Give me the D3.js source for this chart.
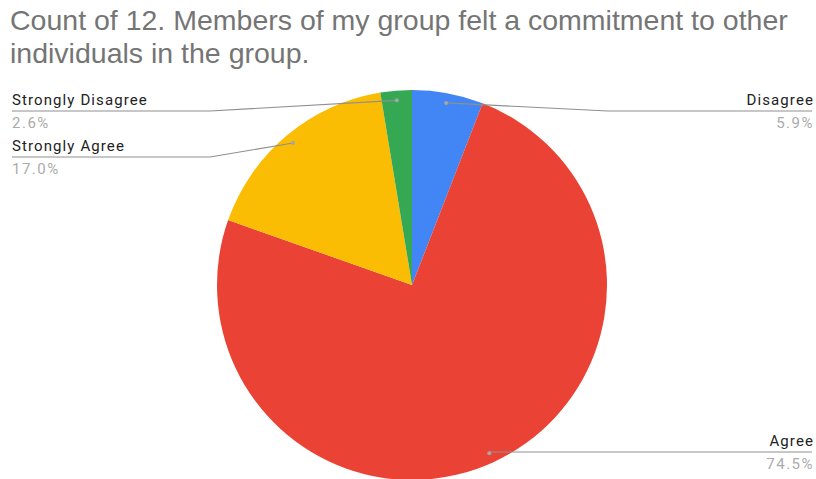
<!DOCTYPE html>
<html>
<head>
<meta charset="utf-8">
<script src="https://cdn.jsdelivr.net/npm/d3@7"></script>
<style>
  html, body { margin: 0; padding: 0; background: #fff; }
  svg { display: block; }
</style>
</head>
<body>
<svg id="chart" width="816" height="479"></svg>
<script>
// Survey responses, in slice order clockwise from 12 o'clock
const categories = ["Disagree", "Agree", "Strongly Agree", "Strongly Disagree"];
const shares = [5.9, 74.5, 17.0, 2.6];
const colors = ["#4285F4", "#EA4335", "#FBBC04", "#34A853"];
const titleLines = ["Count of 12. Members of my group felt a commitment to other",
                    "individuals in the group."];

const W = 816, H = 479;
const cx = 412, cy = 285, r = 195;

const svg = d3.select("#chart");

// Title
svg.append("text")
  .attr("x", 10).attr("y", 30)
  .attr("font-family", "'Liberation Sans', Arial, sans-serif")
  .attr("font-size", 28.5)
  .attr("fill", "#757575")
  .selectAll("tspan").data(titleLines).join("tspan")
  .attr("x", 10)
  .attr("dy", (d, i) => i === 0 ? 0 : 33)
  .text(d => d);

const data = categories.map((c, i) => ({ name: c, value: shares[i], color: colors[i] }));

const pie = d3.pie().value(d => d.value).sort(null);
const arcs = pie(data);
const arc = d3.arc().innerRadius(0).outerRadius(r);

const g = svg.append("g").attr("transform", `translate(${cx},${cy})`);
g.selectAll("path").data(arcs).join("path")
  .attr("d", arc)
  .attr("fill", d => d.data.color);

// Leader lines: anchor dot inside the slice, elbow, horizontal run to the label
const labelSide = { "Disagree": "right", "Agree": "right", "Strongly Agree": "left", "Strongly Disagree": "left" };
const labelY = { "Disagree": 111, "Agree": 452, "Strongly Agree": 157, "Strongly Disagree": 111 };
const dotArc = d3.arc().innerRadius(r * 0.95).outerRadius(r * 0.95);

const leaders = svg.append("g");
arcs.forEach(a => {
  const [dx, dy] = dotArc.centroid(a);
  const px = cx + dx, py = cy + dy;
  const side = labelSide[a.data.name];
  const ly = labelY[a.data.name];
  const endX = side === "right" ? 812 : 12;
  let elbowX = side === "right" ? Math.max(px, 608) : Math.min(px, 210);
  if (a.data.name === "Agree") elbowX = px;
  leaders.append("path")
    .attr("d", `M${px},${py}L${elbowX},${ly}L${endX},${ly}`)
    .attr("fill", "none")
    .attr("stroke", "#8f8f8f")
    .attr("stroke-width", 1.2);
  leaders.append("circle")
    .attr("cx", px).attr("cy", py).attr("r", 2)
    .attr("fill", "#a6a6a6");

  const anchor = side === "right" ? "end" : "start";
  leaders.append("text")
    .attr("x", endX + (side === "right" ? 2 : 0)).attr("y", ly - 6)
    .attr("text-anchor", anchor)
    .attr("font-family", "Roboto, sans-serif")
    .attr("font-size", 15)
    .attr("letter-spacing", 1.1)
    .attr("fill", "#222")
    .text(a.data.name);
  leaders.append("text")
    .attr("x", endX + (side === "right" ? 2 : 0)).attr("y", ly + 17)
    .attr("text-anchor", anchor)
    .attr("font-family", "Roboto, sans-serif")
    .attr("font-size", 15)
    .attr("letter-spacing", 1.5)
    .attr("fill", "#ababab")
    .text(a.data.value.toFixed(1) + "%");
});
</script>
</body>
</html>
